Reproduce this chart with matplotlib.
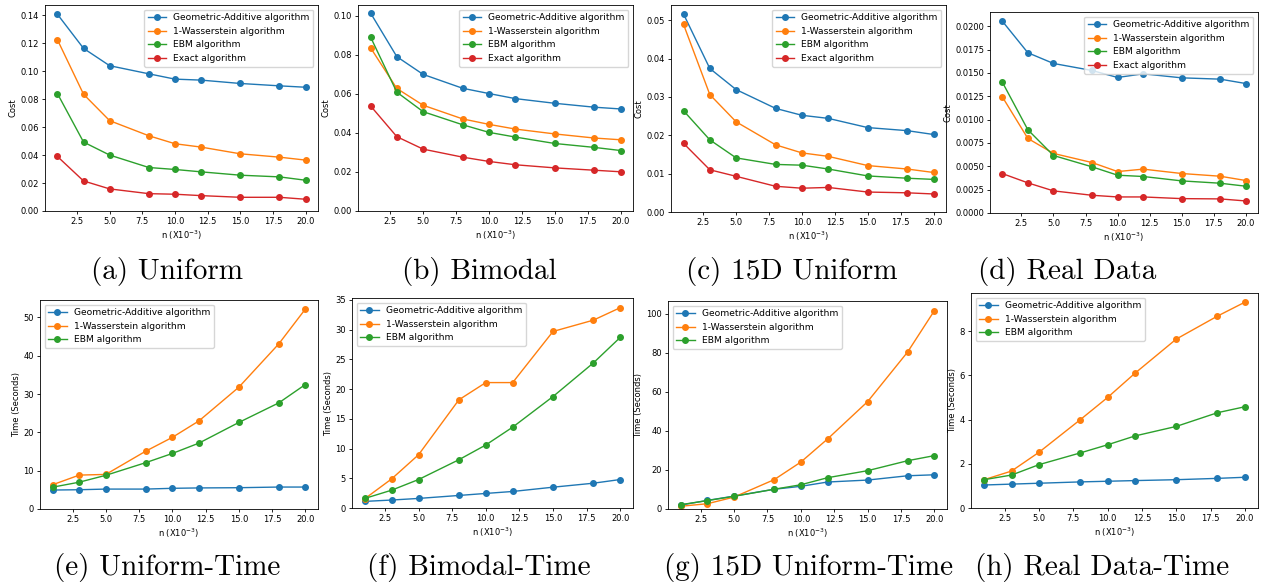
import matplotlib
matplotlib.use("Agg")
import matplotlib.pyplot as plt

W, H = 1262, 588
n = [1, 3, 5, 8, 10, 12, 15, 18, 20]

names4 = ["Geometric-Additive algorithm", "1-Wasserstein algorithm", "EBM algorithm", "Exact algorithm"]
colors = ["#1f77b4", "#ff7f0e", "#2ca02c", "#d62728"]

uni_ga = [0.1407, 0.1163, 0.1039, 0.0981, 0.0943, 0.0936, 0.0912, 0.0895, 0.0885]
uni_w1 = [0.1225, 0.0835, 0.0646, 0.0538, 0.0481, 0.0457, 0.0409, 0.0385, 0.0364]
uni_ebm = [0.0840, 0.0493, 0.0400, 0.0311, 0.0297, 0.0280, 0.0256, 0.0244, 0.0220]
uni_ex = [0.0390, 0.0215, 0.0158, 0.0124, 0.0120, 0.0110, 0.0098, 0.0098, 0.0084]

bi_ga = [0.1015, 0.0791, 0.0700, 0.0629, 0.0602, 0.0576, 0.0552, 0.0532, 0.0523]
bi_w1 = [0.0837, 0.0628, 0.0542, 0.0472, 0.0444, 0.0420, 0.0395, 0.0374, 0.0365]
bi_ebm = [0.0892, 0.0609, 0.0509, 0.0442, 0.0403, 0.0379, 0.0346, 0.0326, 0.0310]
bi_ex = [0.0539, 0.0381, 0.0317, 0.0276, 0.0254, 0.0237, 0.0221, 0.0209, 0.0201]

d15_ga = [0.0516, 0.0374, 0.0319, 0.0270, 0.0252, 0.0244, 0.0220, 0.0212, 0.0202]
d15_w1 = [0.0489, 0.0306, 0.0235, 0.0175, 0.0154, 0.0145, 0.0121, 0.0112, 0.0103]
d15_ebm = [0.0264, 0.0188, 0.0141, 0.0124, 0.0122, 0.0112, 0.0094, 0.0088, 0.0085]
d15_ex = [0.0179, 0.0110, 0.0093, 0.0067, 0.0062, 0.0064, 0.0052, 0.0050, 0.0047]

real_ga = [0.02057, 0.01717, 0.01602, 0.01527, 0.01452, 0.01491, 0.01448, 0.01434, 0.01387]
real_w1 = [0.01247, 0.00799, 0.00638, 0.00541, 0.00444, 0.00470, 0.00423, 0.00394, 0.00348]
real_ebm = [0.01405, 0.00892, 0.00616, 0.00495, 0.00405, 0.00391, 0.00344, 0.00319, 0.00287]
real_ex = [0.00423, 0.00323, 0.00237, 0.00190, 0.00172, 0.00172, 0.00154, 0.00151, 0.00129]

tu_ga = [4.95, 5.03, 5.2, 5.2, 5.4, 5.5, 5.56, 5.73, 5.73]
tu_w1 = [6.34, 8.85, 9.03, 15.1, 18.7, 23.0, 31.8, 43.1, 52.2]
tu_ebm = [5.7, 7.0, 8.8, 12.1, 14.5, 17.2, 22.6, 27.7, 32.5]

tb_ga = [1.11, 1.34, 1.61, 2.11, 2.45, 2.78, 3.5, 4.17, 4.79]
tb_w1 = [1.56, 4.9, 8.96, 18.2, 21.1, 21.1, 29.7, 31.6, 33.7]
tb_ebm = [1.61, 3.0, 4.79, 8.12, 10.6, 13.6, 18.75, 24.4, 28.7]

tg_ga = [2.0, 4.4, 6.6, 10.1, 11.6, 13.8, 14.8, 17.0, 17.5]
tg_w1 = [1.4, 2.7, 6.1, 15.0, 24.0, 35.8, 54.9, 80.3, 101.4]
tg_ebm = [2.2, 4.3, 6.5, 10.1, 12.4, 16.0, 19.6, 24.7, 27.3]

tr_ga = [1.04, 1.08, 1.12, 1.18, 1.21, 1.24, 1.28, 1.34, 1.39]
tr_w1 = [1.28, 1.67, 2.52, 3.99, 5.0, 6.1, 7.64, 8.68, 9.31]
tr_ebm = [1.28, 1.49, 1.96, 2.49, 2.86, 3.26, 3.69, 4.31, 4.58]

captions = ["(a) Uniform", "(b) Bimodal", "(c) 15D Uniform", "(d) Real Data",
            "(e) Uniform-Time", "(f) Bimodal-Time", "(g) 15D Uniform-Time", "(h) Real Data-Time"]

panels = [
    ([uni_ga, uni_w1, uni_ebm, uni_ex], "Cost", "upper right", (45, 5, 318, 211), (167, 271)),
    ([bi_ga, bi_w1, bi_ebm, bi_ex], "Cost", "upper right", (358, 5, 633, 211), (479, 271)),
    ([d15_ga, d15_w1, d15_ebm, d15_ex], "Cost", "upper right", (671, 5, 946, 212), (792, 271)),
    ([real_ga, real_w1, real_ebm, real_ex], "Cost", "upper right", (990, 12, 1258, 213), (1067, 271)),
    ([tu_ga, tu_w1, tu_ebm], "Time (Seconds)", "upper left", (40, 300, 318, 509), (167, 567)),
    ([tb_ga, tb_w1, tb_ebm], "Time (Seconds)", "upper left", (352, 298, 633, 508), (479, 567)),
    ([tg_ga, tg_w1, tg_ebm], "Time (Seconds)", "upper left", (668, 301, 947, 509), (809, 567)),
    ([tr_ga, tr_w1, tr_ebm], "Time (Seconds)", "upper left", (971, 293, 1258, 508), (1102, 567)),
]

fs = 6.6
fig = plt.figure(figsize=(W / 100, H / 100), dpi=100)
for (series, ylab, loc, (l, t, r, b), (cx, cy)), cap in zip(panels, captions):
    ax = fig.add_axes([l / W, 1 - b / H, (r - l) / W, (b - t) / H])
    for s, name, c in zip(series, names4, colors):
        ax.plot(n, s, marker="o", color=c, label=name, lw=1.0, ms=4)
    ax.set_ylim(bottom=0)
    ax.set_xticks([2.5, 5.0, 7.5, 10.0, 12.5, 15.0, 17.5, 20.0])
    ax.tick_params(labelsize=6, length=2.3, width=0.6, pad=2)
    for sp in ax.spines.values():
        sp.set_linewidth(0.6)
    ax.set_xlabel("n (X10$^{-3}$)", fontsize=6, labelpad=2)
    ax.set_ylabel(ylab, fontsize=6, labelpad=2)
    ax.legend(loc=loc, fontsize=fs, handlelength=2.0, borderpad=0.4, labelspacing=0.5)
    fig.text(cx / W, 1 - cy / H, cap, ha="center", va="center", fontsize=21, family="cmr10")

fig.savefig("out.png", dpi=100)
